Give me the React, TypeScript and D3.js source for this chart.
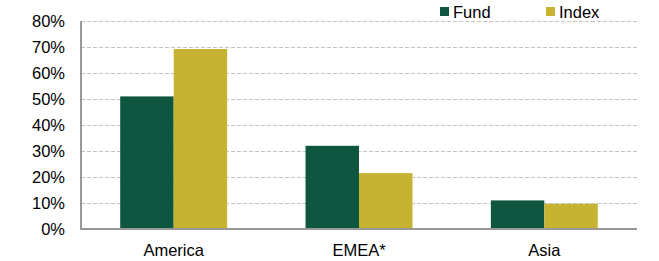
import React, { useEffect, useRef } from "react";
import * as d3 from "d3";

const categories = ["America", "EMEA*", "Asia"];
const seriesNames = ["Fund", "Index"];
const fundValues = [51, 32, 11];
const indexValues = [69.2, 21.5, 9.7];
const yTicks = [0, 10, 20, 30, 40, 50, 60, 70, 80];
const colors = ["#0f5640", "#c6b331"];

const App = () => {
  const svgRef = useRef<SVGSVGElement | null>(null);

  useEffect(() => {
    const width = 659;
    const height = 261;
    const margin = { top: 21, right: 22, bottom: 32, left: 81 };
    const fontSize = "16.5px";
    const svg = d3.select(svgRef.current);
    svg.selectAll("*").remove();
    svg.style("font-family", "'Liberation Sans', Arial, sans-serif");

    const x = d3
      .scaleBand()
      .domain(categories)
      .range([margin.left, width - margin.right])
      .paddingInner(0.423)
      .paddingOuter(0.2115);
    const x1 = d3
      .scaleBand()
      .domain(seriesNames)
      .range([0, x.bandwidth()]);
    const y = d3
      .scaleLinear()
      .domain([0, 80])
      .range([height - margin.bottom, margin.top]);

    // gridlines
    svg
      .append("g")
      .selectAll("line")
      .data(yTicks.filter((t) => t > 0))
      .join("line")
      .attr("x1", margin.left)
      .attr("x2", width - margin.right)
      .attr("y1", (d) => y(d) + 0.5)
      .attr("y2", (d) => y(d) + 0.5)
      .attr("stroke", "#c4c4c4")
      .attr("stroke-width", 1)
      .attr("stroke-dasharray", "4,2");

    // bars
    const data = categories.map((c, i) => ({
      category: c,
      values: [fundValues[i], indexValues[i]],
    }));
    const groups = svg
      .append("g")
      .selectAll("g")
      .data(data)
      .join("g")
      .attr("transform", (d) => `translate(${x(d.category)},0)`);
    groups
      .selectAll("rect")
      .data((d) => d.values.map((v, i) => ({ name: seriesNames[i], v, i })))
      .join("rect")
      .attr("x", (d) => x1(d.name)!)
      .attr("width", x1.bandwidth())
      .attr("y", (d) => y(d.v))
      .attr("height", (d) => y(0) - y(d.v))
      .attr("fill", (d) => colors[d.i]);

    // axes lines
    svg
      .append("line")
      .attr("x1", margin.left)
      .attr("x2", margin.left)
      .attr("y1", margin.top)
      .attr("y2", y(0) + 1)
      .attr("stroke", "#999")
      .attr("stroke-width", 2);
    svg
      .append("line")
      .attr("x1", margin.left)
      .attr("x2", width - margin.right)
      .attr("y1", y(0))
      .attr("y2", y(0))
      .attr("stroke", "#999")
      .attr("stroke-width", 2);

    // y tick labels
    svg
      .append("g")
      .selectAll("text")
      .data(yTicks)
      .join("text")
      .attr("x", 65)
      .attr("y", (d) => y(d))
      .attr("dy", "0.36em")
      .attr("text-anchor", "end")
      .style("font-size", fontSize)
      .style("fill", "#000")
      .text((d) => `${d}%`);

    // x labels
    svg
      .append("g")
      .selectAll("text")
      .data(categories)
      .join("text")
      .attr("x", (d) => x(d)! + x.bandwidth() / 2)
      .attr("y", 256)
      .attr("text-anchor", "middle")
      .style("font-size", fontSize)
      .style("fill", "#000")
      .text((d) => d);

    // legend
    const legendX = [440, 546];
    const legend = svg
      .append("g")
      .selectAll("g")
      .data(seriesNames)
      .join("g")
      .attr("transform", (d, i) => `translate(${legendX[i]},7)`);
    legend
      .append("rect")
      .attr("width", 9)
      .attr("height", 9)
      .attr("fill", (d, i) => colors[i]);
    legend
      .append("text")
      .attr("x", 13)
      .attr("y", 10.5)
      .style("font-size", fontSize)
      .style("fill", "#000")
      .text((d) => d);
  }, []);

  return <svg ref={svgRef} width={659} height={261} style={{ display: "block", position: "absolute", left: 0, top: 0 }}></svg>;
};

export default App;
